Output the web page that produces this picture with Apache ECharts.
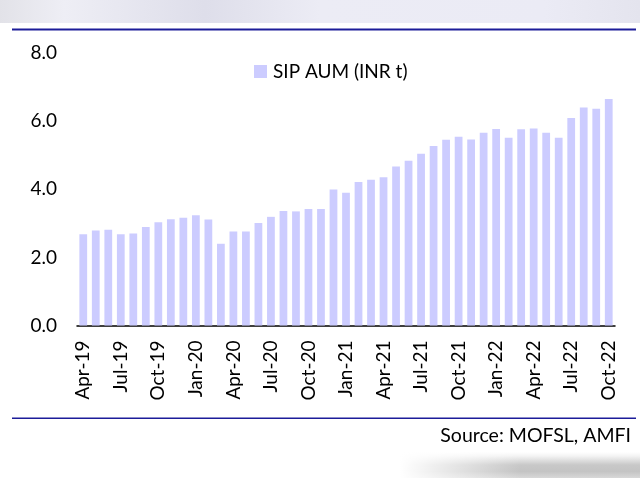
<!DOCTYPE html>
<html>
<head>
<meta charset="utf-8">
<script src="https://cdn.jsdelivr.net/npm/echarts@6/dist/echarts.min.js"></script>
<style>
html,body{margin:0;padding:0;background:#fff;}
#c{width:640px;height:478px;}
</style>
</head>
<body>
<div id="c"></div>
<script>
var categories = ["Apr-19","May-19","Jun-19","Jul-19","Aug-19","Sep-19","Oct-19","Nov-19","Dec-19",
  "Jan-20","Feb-20","Mar-20","Apr-20","May-20","Jun-20","Jul-20","Aug-20","Sep-20","Oct-20","Nov-20","Dec-20",
  "Jan-21","Feb-21","Mar-21","Apr-21","May-21","Jun-21","Jul-21","Aug-21","Sep-21","Oct-21","Nov-21","Dec-21",
  "Jan-22","Feb-22","Mar-22","Apr-22","May-22","Jun-22","Jul-22","Aug-22","Sep-22","Oct-22"];
var sipAum = [2.68,2.79,2.81,2.68,2.70,2.89,3.03,3.12,3.16,3.24,3.11,2.40,2.76,2.76,3.01,3.19,3.36,3.35,3.42,3.42,
  3.99,3.90,4.21,4.28,4.35,4.67,4.84,5.04,5.27,5.45,5.54,5.46,5.66,5.77,5.51,5.76,5.78,5.66,5.51,6.09,6.40,6.36,6.65];
var seriesName = "SIP AUM (INR t)";
var sourceText = "Source: MOFSL, AMFI";

var chart = echarts.init(document.getElementById('c'), null, {renderer:'canvas'});
var FONT = 'Lato';
chart.setOption({
  animation:false,
  backgroundColor:'#ffffff',
  grid:{left:77, right:25, top:53, bottom:152.5, containLabel:false},
  legend:{
    left:249, top:57, itemWidth:13, itemHeight:13, itemGap:10,
    icon:'rect',
    textStyle:{fontFamily:FONT, fontSize:19, color:'#000', padding:[0,0,0,1]},
    data:[seriesName]
  },
  xAxis:{
    type:'category', data:categories,
    axisLine:{show:true, lineStyle:{color:'#000', width:1.5}},
    axisTick:{show:false},
    axisLabel:{interval:2, rotate:90, margin:15, fontFamily:FONT, fontSize:19, color:'#000'}
  },
  yAxis:{
    type:'value', min:0, max:8, interval:2,
    axisLine:{show:false}, axisTick:{show:false}, splitLine:{show:false},
    axisLabel:{margin:20, fontFamily:FONT, fontSize:19, color:'#000',
      formatter:function(v){return v.toFixed(1);}}
  },
  series:[{
    name:seriesName, type:'bar', data:sipAum, barWidth:'62%',
    itemStyle:{color:'#ccccff'}
  }],
  graphic:[
    {type:'rect', shape:{x:0,y:0,width:640,height:23}, z:-1,
      style:{fill:new echarts.graphic.LinearGradient(0,0,1,0,[
        {offset:0,color:'#e2e2e8'},{offset:0.1,color:'#eeeef5'},{offset:0.32,color:'#dedeea'},
        {offset:0.5,color:'#ececf5'},{offset:0.85,color:'#ebebf5'},{offset:1,color:'#e4e4ee'}])}},
    {type:'rect', shape:{x:12,y:28.5,width:624,height:2}, style:{fill:'#1c1c99'}},
    {type:'rect', shape:{x:12,y:417.5,width:624,height:1.5}, style:{fill:'#1c1c99'}},
    {type:'text', right:9, top:426, style:{text:sourceText, font:'19.5px Lato', fill:'#000'}},
    {type:'rect', shape:{x:400,y:452,width:240,height:26}, z:-1,
      style:{fill:new echarts.graphic.LinearGradient(0,0,0,1,[
        {offset:0,color:'#ffffff'},{offset:0.15,color:'#f4f4f4'},{offset:0.5,color:'#c8c8c8'},
        {offset:0.75,color:'#c4c4c4'},{offset:1,color:'#d8d8d8'}])}},
    {type:'rect', shape:{x:400,y:452,width:120,height:26}, z:0,
      style:{fill:new echarts.graphic.LinearGradient(0,0,1,0,[
        {offset:0,color:'rgba(255,255,255,1)'},{offset:1,color:'rgba(255,255,255,0)'}])}}
  ]
});
</script>
</body>
</html>
